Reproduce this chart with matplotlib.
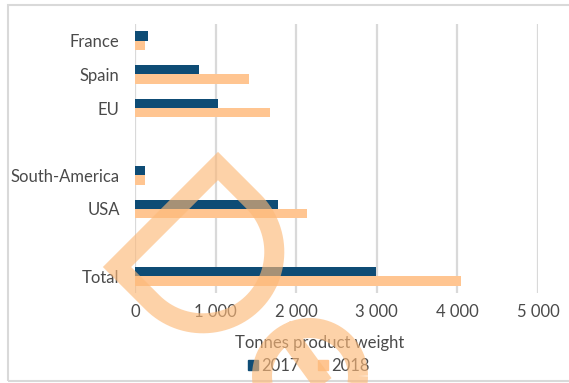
import numpy as np
import matplotlib
matplotlib.use("Agg")
import matplotlib.pyplot as plt
import matplotlib.patches as mpatches
from matplotlib.path import Path
from matplotlib.lines import Line2D

# Daten (leere Zeilen = Lücken im Original)
categories = ["France", "Spain", "EU", "", "South-America", "USA", "", "Total"]
values_2017 = [160, 800, 1025, np.nan, 120, 1780, np.nan, 2985]
values_2018 = [130, 1420, 1675, np.nan, 128, 2135, np.nan, 4050]
x_ticks = [0, 1000, 2000, 3000, 4000, 5000]
series_names = ["2017", "2018"]

color_2017 = "#0E4C75"
color_2018 = "#FFC591"
text_color = "#4A4A4A"
grid_color = "#D9D9D9"
font = "Lato"
fs = 12

W, H = 569, 383
fig = plt.figure(figsize=(W / 100, H / 100), dpi=100)
ax = fig.add_axes([135 / W, 1 - 293 / H, (538 - 135) / W, (293 - 24) / H])

y = np.arange(len(categories))
bar_h = 0.28
ax.barh(y - bar_h / 2, values_2017, height=bar_h, color=color_2017, zorder=3)
ax.barh(y + bar_h / 2, values_2018, height=bar_h, color=color_2018, zorder=3)

ax.set_ylim(len(categories) - 0.5, -0.5)
ax.set_xlim(0, 5000)
ax.set_yticks(y)
ax.set_yticklabels(categories)
ax.set_xticks(x_ticks)
ax.set_xticklabels([f"{v:,}".replace(",", " ") for v in x_ticks])

ax.xaxis.grid(True, color=grid_color, linewidth=1.6, zorder=0)
ax.set_axisbelow(True)
for s in ax.spines.values():
    s.set_visible(False)
ax.tick_params(axis="both", length=0, labelsize=fs, labelcolor=text_color)
ax.tick_params(axis="y", pad=11)
ax.tick_params(axis="x", pad=8)
for lab in ax.get_xticklabels() + ax.get_yticklabels():
    lab.set_fontfamily(font)

# Achsentitel und Legende
fig.text(320 / W, 1 - 343 / H, "Tonnes product weight", ha="center", va="center",
         fontsize=fs, color=text_color, family=font)
handles = [Line2D([0], [0], marker="s", color="none", markerfacecolor=c, markeredgecolor=c,
                  markersize=7, label=n) for c, n in zip([color_2017, color_2018], series_names)]
fig.legend(handles=handles, loc="center", bbox_to_anchor=(308 / W, 1 - 366 / H), ncol=2,
           frameon=False, handletextpad=0.1, columnspacing=1.0, handlelength=0.8,
           prop={"family": font, "size": fs}, labelcolor=text_color)

# Rahmen um das Diagramm
frame = mpatches.Rectangle((8 / W, 1 - 381 / H), (W + 10 - 8) / W, (381 - 5) / H,
                           transform=fig.transFigure, fill=False, edgecolor=grid_color,
                           linewidth=1.5, zorder=1)
fig.add_artist(frame)


# Wasserzeichen (Pixelkoordinaten -> Figurkoordinaten)
def px(x, yy):
    return (x / W, 1 - yy / H)


verts, codes = [], []
# Tropfenform
c = np.array([202.9, 251.9])
r = 71.4
verts += [px(117, 267), px(218, 166)]
codes += [Path.MOVETO, Path.LINETO]
for a in np.linspace(-45, 135, 60):
    t = np.radians(a)
    verts.append(px(c[0] + r * np.cos(t), c[1] + r * np.sin(t)))
    codes.append(Path.LINETO)
verts.append(px(117, 267))
codes.append(Path.CLOSEPOLY)
# Kreis mit Strich unten
c2 = np.array([310, 376])
r2 = 48
ang = np.linspace(0, 360, 90)
for i, a in enumerate(ang):
    t = np.radians(a)
    verts.append(px(c2[0] + r2 * np.cos(t), c2[1] + r2 * np.sin(t)))
    codes.append(Path.MOVETO if i == 0 else Path.LINETO)
verts += [px(282, 327), px(330, 393)]
codes += [Path.MOVETO, Path.LINETO]

mark = mpatches.PathPatch(Path(verts, codes), transform=fig.transFigure, fill=False,
                          edgecolor="#FDB978", alpha=0.64, linewidth=14.4,
                          joinstyle="miter", capstyle="butt", zorder=10)
fig.add_artist(mark)

fig.savefig("out.png", dpi=100)
